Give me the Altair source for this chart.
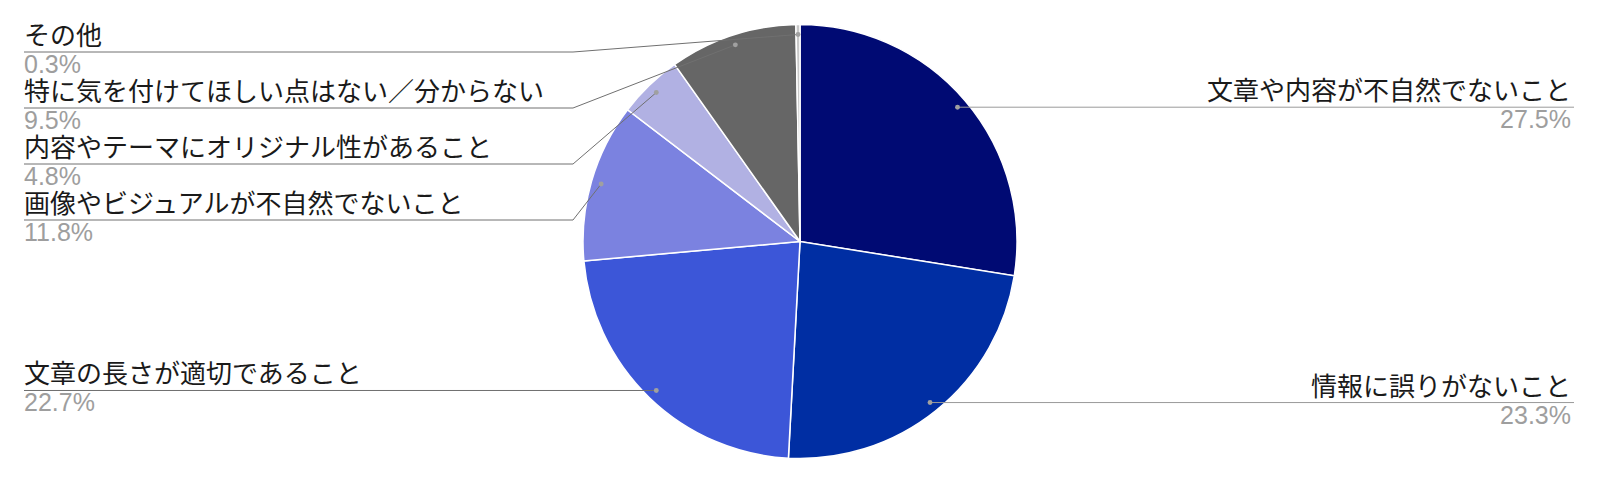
import math
import altair as alt
import pandas as pd

# ---- data ----
categories = [
    "文章や内容が不自然でないこと",
    "情報に誤りがないこと",
    "文章の長さが適切であること",
    "画像やビジュアルが不自然でないこと",
    "内容やテーマにオリジナル性があること",
    "特に気を付けてほしい点はない／分からない",
    "その他",
]
values = [27.5, 23.3, 22.7, 11.8, 4.8, 9.5, 0.3]
pct_labels = ["27.5%", "23.3%", "22.7%", "11.8%", "4.8%", "9.5%", "0.3%"]
colors = ["#000a73", "#002ea3", "#3c56d8", "#7b82e0", "#b1b1e3", "#666666", "#c8c8c8"]

# ---- layout ----
W, H, OFF = 1584, 467, 8
CX, CY, R = 800 - OFF, 241.5 - OFF, 217
DOT_R = 207
side = ["right", "right", "left", "left", "left", "left", "left"]
stack_y = {3: 220 - OFF, 4: 164 - OFF, 5: 108 - OFF, 6: 52 - OFF}
LEFT_X, ELBOW_X = 24 - OFF, 573 - OFF
RIGHT_TX, RIGHT_LX = 1571 - OFF, 1574 - OFF
FONT = "Noto Sans CJK JP"
PFONT = "Liberation Sans"

total = sum(values)
pie_df = pd.DataFrame({"cat": categories, "value": values, "idx": range(len(values))})

line_rows, dot_rows, text_rows = [], [], []
cum = 0.0
for i, v in enumerate(values):
    a = (cum + v / 2) / total * 2 * math.pi
    cum += v
    dx = CX + DOT_R * math.sin(a)
    dy = CY - DOT_R * math.cos(a)
    dot_rows.append({"px": dx, "py": dy})
    if side[i] == "right":
        uy = dy
        pts = [(dx, dy), (RIGHT_LX, dy)]
        lc = "#9a9a9a"
        tx = RIGHT_TX
    else:
        if i in stack_y:
            uy = stack_y[i]
            pts = [(LEFT_X, uy), (ELBOW_X, uy), (dx, dy)]
        else:
            uy = dy
            pts = [(LEFT_X, dy), (dx, dy)]
        lc = "#707070"
        tx = LEFT_X
    for k, (x, y) in enumerate(pts):
        line_rows.append({"id": i, "ord": k, "px": x, "py": y, "lc": lc})
    text_rows.append({"side": side[i], "tx": tx, "ly": uy - 7, "py2": uy + 21,
                      "label": categories[i], "pct": pct_labels[i]})

lines_df = pd.DataFrame(line_rows)
dots_df = pd.DataFrame(dot_rows)
text_df = pd.DataFrame(text_rows)

xs = alt.Scale(domain=[0, W], nice=False, zero=False)
ys = alt.Scale(domain=[0, H], nice=False, zero=False, reverse=True)

pie = alt.Chart(pie_df).mark_arc(outerRadius=R, stroke="white", strokeWidth=1.5).encode(
    theta=alt.Theta("value:Q", stack=True),
    color=alt.Color("cat:N", scale=alt.Scale(domain=categories, range=colors), legend=None),
    order=alt.Order("idx:Q"),
    x=alt.value(CX),
    y=alt.value(CY),
)

leaders = alt.Chart(lines_df).mark_line(strokeWidth=1).encode(
    x=alt.X("px:Q", scale=xs, axis=None),
    y=alt.Y("py:Q", scale=ys, axis=None),
    detail="id:N",
    order="ord:Q",
    color=alt.Color("lc:N", scale=None),
)

dots = alt.Chart(dots_df).mark_circle(size=24, color="#a0a0a0", opacity=1).encode(
    x=alt.X("px:Q", scale=xs, axis=None),
    y=alt.Y("py:Q", scale=ys, axis=None),
)

def texts(s, align):
    base = alt.Chart(text_df).transform_filter(alt.datum.side == s)
    lab = base.mark_text(align=align, baseline="alphabetic", font=FONT, fontSize=26,
                         color="#1a1a1a").encode(
        x=alt.X("tx:Q", scale=xs, axis=None),
        y=alt.Y("ly:Q", scale=ys, axis=None),
        text="label:N",
    )
    pct = base.mark_text(align=align, baseline="alphabetic", font=PFONT, fontSize=25,
                         color="#9e9e9e").encode(
        x=alt.X("tx:Q", scale=xs, axis=None),
        y=alt.Y("py2:Q", scale=ys, axis=None),
        text="pct:N",
    )
    return lab + pct

chart = alt.layer(pie, leaders, dots, texts("left", "left"), texts("right", "right")).properties(
    width=W, height=H, autosize="none", padding=0
).configure_view(strokeWidth=0)

chart.save("out.html", embed_options={"renderer": "svg", "actions": False})
